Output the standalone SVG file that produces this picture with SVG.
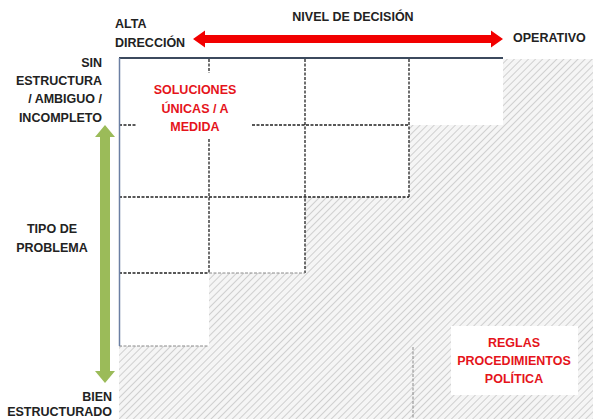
<svg xmlns="http://www.w3.org/2000/svg" width="593" height="419" viewBox="0 0 593 419">
<defs>
<pattern id="hatch" patternUnits="userSpaceOnUse" width="5" height="5" patternTransform="rotate(45)">
<rect width="5" height="5" fill="#f5f5f5"/>
<line x1="0" y1="0" x2="0" y2="5" stroke="#cfcfcf" stroke-width="2"/>
</pattern>
</defs>
<style>
.lbl{font-family:"Liberation Sans",Arial,sans-serif;font-weight:bold;font-size:12.5px;fill:#222222}
.red{font-family:"Liberation Sans",Arial,sans-serif;font-weight:bold;font-size:12.5px;fill:#e5141b;text-anchor:middle}
.dash{stroke:#222;stroke-width:1.3;stroke-dasharray:3,1.5;fill:none}
.dashf{stroke:#8a8a8a;stroke-width:1;stroke-dasharray:3,1.5;fill:none}
</style>
<rect width="593" height="419" fill="#ffffff"/>
<g id="hatched-area">
<rect x="119" y="59" width="474" height="360" fill="url(#hatch)"/>
<path d="M119 59 H503 V125 H409 V197 H305 V273 H209 V346 H119 Z" fill="#ffffff"/>
</g>
<g id="grid">
<path class="dash" d="M119 125 H137 M252 125 H409 M119 197 H409 M119 273 H209 M209 59 V73 M209 139 V273 M305 59 V273 M409 59 V197"/>
<path class="dashf" d="M209 273 H305 M119 346 H209 M413 347 V419"/>
<line x1="119" y1="58" x2="503" y2="58" stroke="#3c4a5e" stroke-width="2"/>
<line x1="119.5" y1="58" x2="119.5" y2="346" stroke="#6b7fa3" stroke-width="1.5"/>
</g>
<g id="connectors">
<path id="red-arrow" d="M193 39 L205 30.5 V35 H491 V30.5 L503 39 L491 47.5 V43 H205 V47.5 Z" fill="#f20000"/>
<path id="green-arrow" d="M105 125 L115 137 H110 V371 H115 L105 383 L95 371 H100 V137 H95 Z" fill="#9bbb59"/>
</g>
<g id="node-top-labels">
<text class="lbl" x="115" y="28">ALTA</text>
<text class="lbl" x="115" y="47">DIRECCIÓN</text>
<text class="lbl" x="353" y="21" text-anchor="middle">NIVEL DE DECISIÓN</text>
<text class="lbl" x="513" y="42">OPERATIVO</text>
</g>
<g id="node-left-labels">
<text class="lbl" x="102" y="67" text-anchor="end">SIN</text>
<text class="lbl" x="102" y="85" text-anchor="end">ESTRUCTURA</text>
<text class="lbl" x="102" y="103" text-anchor="end">/ AMBIGUO /</text>
<text class="lbl" x="102" y="122" text-anchor="end">INCOMPLETO</text>
<text class="lbl" x="52" y="233" text-anchor="middle">TIPO DE</text>
<text class="lbl" x="52" y="252" text-anchor="middle">PROBLEMA</text>
<text class="lbl" x="112" y="401" text-anchor="end">BIEN</text>
<text class="lbl" x="112" y="416" text-anchor="end">ESTRUCTURADO</text>
</g>
<g id="node-soluciones">
<rect x="137" y="73" width="115" height="66" fill="#ffffff"/>
<text class="red" x="195" y="94">SOLUCIONES</text>
<text class="red" x="195" y="113">ÚNICAS / A</text>
<text class="red" x="195" y="131">MEDIDA</text>
</g>
<g id="node-reglas">
<rect x="451" y="326" width="127" height="69" fill="#ffffff"/>
<text class="red" x="514" y="347">REGLAS</text>
<text class="red" x="514" y="365">PROCEDIMIENTOS</text>
<text class="red" x="514" y="383">POLÍTICA</text>
</g>
</svg>
